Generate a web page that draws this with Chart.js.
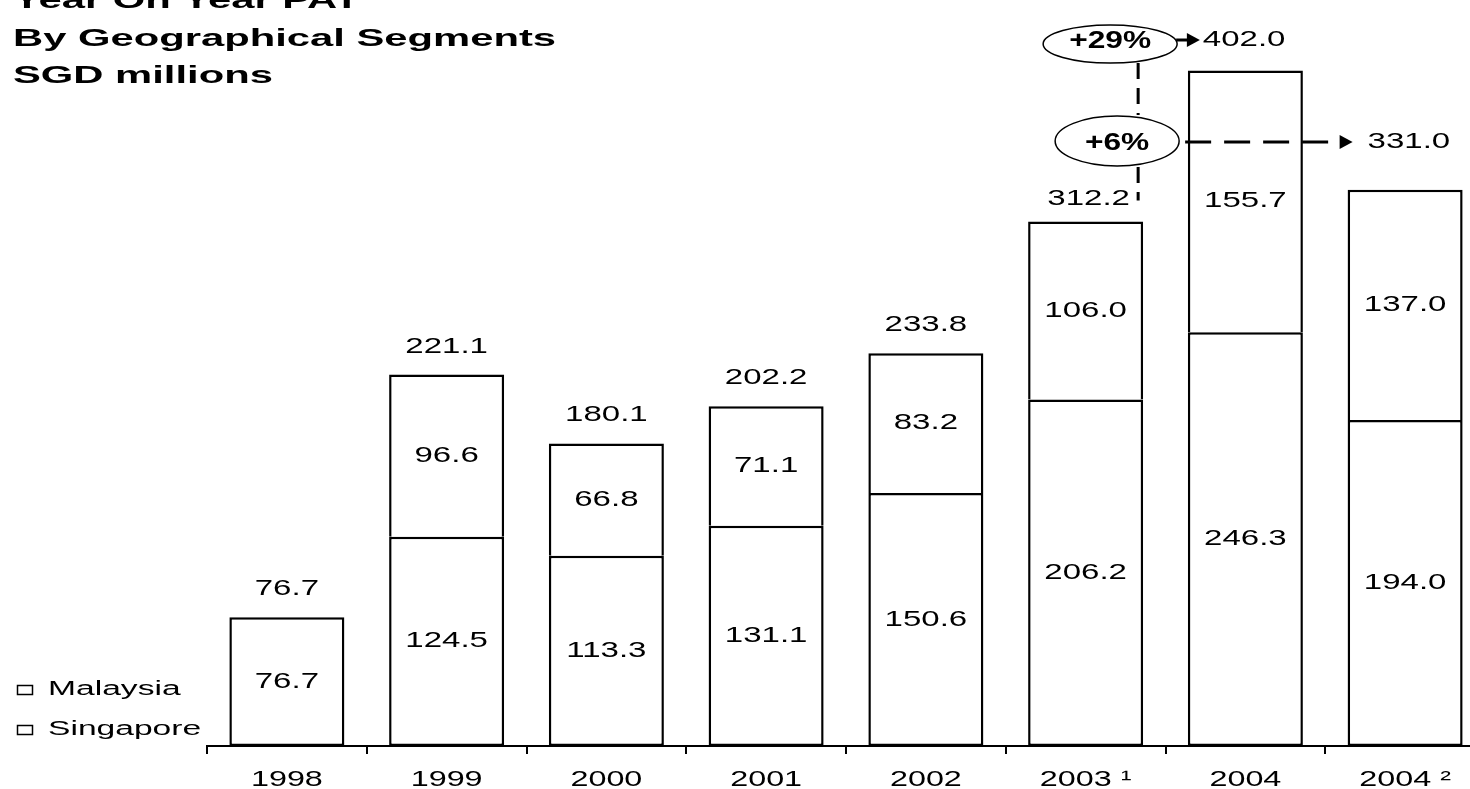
<!DOCTYPE html>
<html>
<head>
<meta charset="utf-8">
<title>Year On Year PAT</title>
<script src="https://cdn.jsdelivr.net/npm/chart.js@4.4.1/dist/chart.umd.min.js"></script>
<style>
  html, body { margin: 0; padding: 0; background: #fff; overflow: hidden; }
  canvas { display: block; }
</style>
</head>
<body>
<canvas id="patChart" width="1487" height="789"></canvas>
<script>
// === DATA ===
const titleLines = ["Year On Year PAT", "By Geographical Segments", "SGD millions"];
const categories = ["1998", "1999", "2000", "2001", "2002", "2003 ¹", "2004", "2004 ²"];
const singapore = [76.7, 124.5, 113.3, 131.1, 150.6, 206.2, 246.3, 194.0];
const malaysia = [null, 96.6, 66.8, 71.1, 83.2, 106.0, 155.7, 137.0];
const totals = [76.7, 221.1, 180.1, 202.2, 233.8, 312.2, 402.0, 331.0];
const growth = ["+29%", "+6%"];

// === TEXT HELPERS (source slide is stretched sideways) ===
const FONT = '"Liberation Sans", Arial, sans-serif';
const NUM_STRETCH = 1.5;

function wideText(ctx, text, x, y, sx, align = "center") {
  ctx.save();
  ctx.translate(x, y);
  ctx.scale(sx, 1);
  ctx.textAlign = align;
  ctx.fillText(text, 0, 0);
  ctx.restore();
}

function arrowHead(ctx, x, y) {
  ctx.beginPath();
  ctx.moveTo(x - 13, y - 7);
  ctx.lineTo(x, y);
  ctx.lineTo(x - 13, y + 7);
  ctx.closePath();
  ctx.fill();
}

function ellipse(ctx, cx, cy, rx, ry) {
  ctx.beginPath();
  ctx.ellipse(cx, cy, rx, ry, 0, 0, Math.PI * 2);
  ctx.fillStyle = "#fff";
  ctx.fill();
  ctx.stroke();
  ctx.fillStyle = "#000";
}

// === TITLE + LEGEND ===
const titlePlugin = {
  id: "titleLegend",
  afterDraw(chart) {
    const ctx = chart.ctx;
    ctx.save();
    ctx.fillStyle = "#000";
    ctx.textBaseline = "alphabetic";
    ctx.font = `bold 24px ${FONT}`;
    [8, 45.5, 83].forEach((y, i) => wideText(ctx, titleLines[i], 13, y, 1.74, "left"));

    // legend: Malaysia above Singapore
    ctx.font = `20px ${FONT}`;
    ctx.textBaseline = "middle";
    ctx.lineWidth = 1.5;
    ctx.strokeStyle = "#000";
    const rows = [chart.data.datasets[1].label, chart.data.datasets[0].label];
    [689, 729].forEach((y, i) => {
      ctx.strokeRect(17.5, y - 3.5, 15, 9);
      wideText(ctx, rows[i], 48, y, 1.68, "left");
    });
    ctx.restore();
  },
};

// === VALUE LABELS + X LABELS ===
const calloutIdx = [5, 6, 7];
const labelPlugin = {
  id: "valueLabels",
  afterDatasetsDraw(chart) {
    const ctx = chart.ctx;
    const yScale = chart.scales.y;
    const xScale = chart.scales.x;
    ctx.save();
    ctx.fillStyle = "#000";
    ctx.font = `22px ${FONT}`;
    ctx.textBaseline = "middle";

    chart.data.datasets.forEach((ds, d) => {
      chart.getDatasetMeta(d).data.forEach((bar, i) => {
        const v = ds.data[i];
        if (v == null) return;
        wideText(ctx, v.toFixed(1), bar.x, (bar.y + bar.base) / 2, NUM_STRETCH);
      });
    });

    totals.forEach((t, i) => {
      if (calloutIdx.includes(i)) return;
      wideText(ctx, t.toFixed(1), xScale.getPixelForValue(i), yScale.getPixelForValue(t) - 28, NUM_STRETCH);
    });

    ctx.textBaseline = "alphabetic";
    categories.forEach((c, i) => {
      wideText(ctx, c, xScale.getPixelForValue(i), 786, 1.47);
    });
    ctx.restore();
  },
};

// === GROWTH CALLOUTS ===
const calloutPlugin = {
  id: "callouts",
  afterDatasetsDraw(chart) {
    const ctx = chart.ctx;
    const yScale = chart.scales.y;
    const meta = chart.getDatasetMeta(0).data;
    const b03 = meta[5], b04 = meta[6], b04b = meta[7];
    const vx = b03.x + b03.width / 2 - 5;
    ctx.save();
    ctx.fillStyle = "#000";
    ctx.strokeStyle = "#000";

    // 2003 total, tucked beside the dashed line
    ctx.font = `22px ${FONT}`;
    ctx.textBaseline = "middle";
    const t03 = yScale.getPixelForValue(totals[5]);
    wideText(ctx, totals[5].toFixed(1), b03.x + 3, t03 - 23, NUM_STRETCH);

    // vertical dashed connector
    ctx.lineWidth = 3;
    ctx.setLineDash([16, 9]);
    ctx.beginPath();
    ctx.moveTo(vx, 63);
    ctx.lineTo(vx, 115);
    ctx.moveTo(vx, 167);
    ctx.lineTo(vx, t03 - 21);
    ctx.stroke();

    // horizontal dashed line to 2004 ² total
    const endB = b04b.x - b04b.width / 2 + 5;
    ctx.setLineDash([26, 13]);
    ctx.beginPath();
    ctx.moveTo(vx + 47, 142);
    ctx.lineTo(endB - 10, 142);
    ctx.stroke();
    ctx.setLineDash([]);
    arrowHead(ctx, endB, 142);
    wideText(ctx, totals[7].toFixed(1), endB + 15, 142, NUM_STRETCH, "left");

    // short arrow to 2004 total
    const endA = b04.x - b04.width / 2 + 12;
    ctx.lineWidth = 3;
    ctx.beginPath();
    ctx.moveTo(vx + 38, 40);
    ctx.lineTo(endA - 8, 40);
    ctx.stroke();
    arrowHead(ctx, endA, 40);
    wideText(ctx, totals[6].toFixed(1), endA + 3, 40, NUM_STRETCH, "left");

    // ellipses
    ctx.lineWidth = 1.5;
    ellipse(ctx, vx - 28, 44, 67, 19);
    ellipse(ctx, vx - 21, 141, 62, 25);
    ctx.font = `bold 24px ${FONT}`;
    wideText(ctx, growth[0], vx - 28, 41, 1.32);
    wideText(ctx, growth[1], vx - 21, 143, 1.32);
    ctx.restore();
  },
};

// === CHART ===
const ctx = document.getElementById("patChart").getContext("2d");
const barStyle = {
  backgroundColor: "#fff",
  borderColor: "#000",
  borderWidth: 2.5,
  categoryPercentage: 1,
  barPercentage: 0.72,
};

new Chart(ctx, {
  type: "bar",
  data: {
    labels: categories,
    datasets: [
      { label: "Singapore", data: singapore, borderSkipped: false, ...barStyle },
      { label: "Malaysia", data: malaysia, borderSkipped: "bottom", ...barStyle },
    ],
  },
  options: {
    responsive: false,
    animation: false,
    layout: { padding: { left: 207, right: 2, top: 0, bottom: 0 } },
    plugins: {
      legend: { display: false },
      tooltip: { enabled: false },
    },
    scales: {
      x: {
        stacked: true,
        offset: true,
        grid: {
          display: true,
          drawOnChartArea: false,
          drawTicks: true,
          tickLength: 8,
          offset: true,
          color: "#000",
          lineWidth: 2,
        },
        border: { display: true, color: "#000", width: 2 },
        ticks: { color: "rgba(0,0,0,0)", font: { size: 22 } },
        afterFit: (s) => { s.height = 43; },
      },
      y: {
        stacked: true,
        display: false,
        min: 0,
        max: 444,
      },
    },
  },
  plugins: [titlePlugin, labelPlugin, calloutPlugin],
});
</script>
</body>
</html>
